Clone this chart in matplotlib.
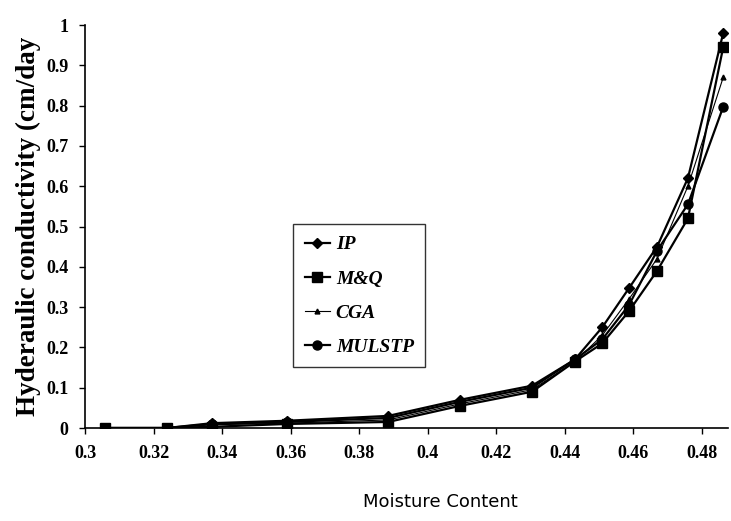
import numpy as np
import matplotlib.pyplot as plt

moisture = [0.3058, 0.3239, 0.3371, 0.359, 0.3885, 0.4095, 0.4305,
            0.443, 0.451, 0.4588, 0.467, 0.476, 0.4863]
k_ip = [0, 0, 0.012, 0.018, 0.03, 0.07, 0.105, 0.17, 0.25, 0.347, 0.45, 0.62, 0.98]
k_mq = [0, 0, 0.003, 0.01, 0.015, 0.055, 0.09, 0.165, 0.21, 0.29, 0.39, 0.52, 0.945]
k_cga = [0, 0, 0.008, 0.012, 0.02, 0.06, 0.095, 0.165, 0.23, 0.32, 0.42, 0.60, 0.87]
k_mulstp = [0, 0, 0.01, 0.015, 0.025, 0.065, 0.1, 0.17, 0.22, 0.305, 0.44, 0.555, 0.797]

x_ticks = [0.3, 0.32, 0.34, 0.36, 0.38, 0.4, 0.42, 0.44, 0.46, 0.48]
x_labels = ['0.3', '0.32', '0.34', '0.36', '0.38', '0.4', '0.42', '0.44', '0.46', '0.48']
y_ticks = [0, 0.1, 0.2, 0.3, 0.4, 0.5, 0.6, 0.7, 0.8, 0.9, 1.0]
y_labels = ['0', '0.1', '0.2', '0.3', '0.4', '0.5', '0.6', '0.7', '0.8', '0.9', '1']

fig = plt.figure(figsize=(7.31, 5.21), dpi=100)
ax = fig.add_axes([0.1163, 0.1785, 0.8796, 0.7735])

ax.plot(moisture, k_ip, color='black', lw=1.6, marker='D', ms=5, label='IP')
ax.plot(moisture, k_mq, color='black', lw=1.6, marker='s', ms=6.5, label='M&Q')
ax.plot(moisture, k_cga, color='black', lw=0.8, marker='^', ms=3.5, label='CGA')
ax.plot(moisture, k_mulstp, color='black', lw=1.6, marker='o', ms=6.5, label='MULSTP')

ax.set_xlim(0.3, 0.4877)
ax.set_ylim(0, 1)
ax.set_xticks(x_ticks)
ax.set_xticklabels(x_labels, fontfamily='Liberation Serif', fontweight='bold', fontsize=13)
ax.set_yticks(y_ticks)
ax.set_yticklabels(y_labels, fontfamily='Liberation Serif', fontweight='bold', fontsize=13)
ax.tick_params(direction='out', length=4, width=1, colors='black', pad=8)

ax.spines['top'].set_visible(False)
ax.spines['right'].set_visible(False)
ax.spines['left'].set_linewidth(1.2)
ax.spines['bottom'].set_linewidth(1.2)

ax.set_ylabel('Hyderaulic conductivity (cm/day', fontfamily='Liberation Serif',
              fontweight='bold', fontsize=19.5, labelpad=4)
fig.text(0.603, 0.019, 'Moisture Content', fontfamily='DejaVu Sans',
         fontsize=13, ha='center', va='bottom')

leg = ax.legend(loc='upper left', bbox_to_anchor=(0.3235, 0.506), frameon=True,
                fancybox=False, edgecolor='black', handlelength=1.3,
                handletextpad=0.3, labelspacing=0.85, borderpad=0.6,
                borderaxespad=0,
                prop={'family': 'Liberation Serif', 'weight': 'bold',
                      'style': 'italic', 'size': 14})
leg.get_frame().set_linewidth(1.0)

plt.savefig('out.png', dpi=100)
plt.close()
